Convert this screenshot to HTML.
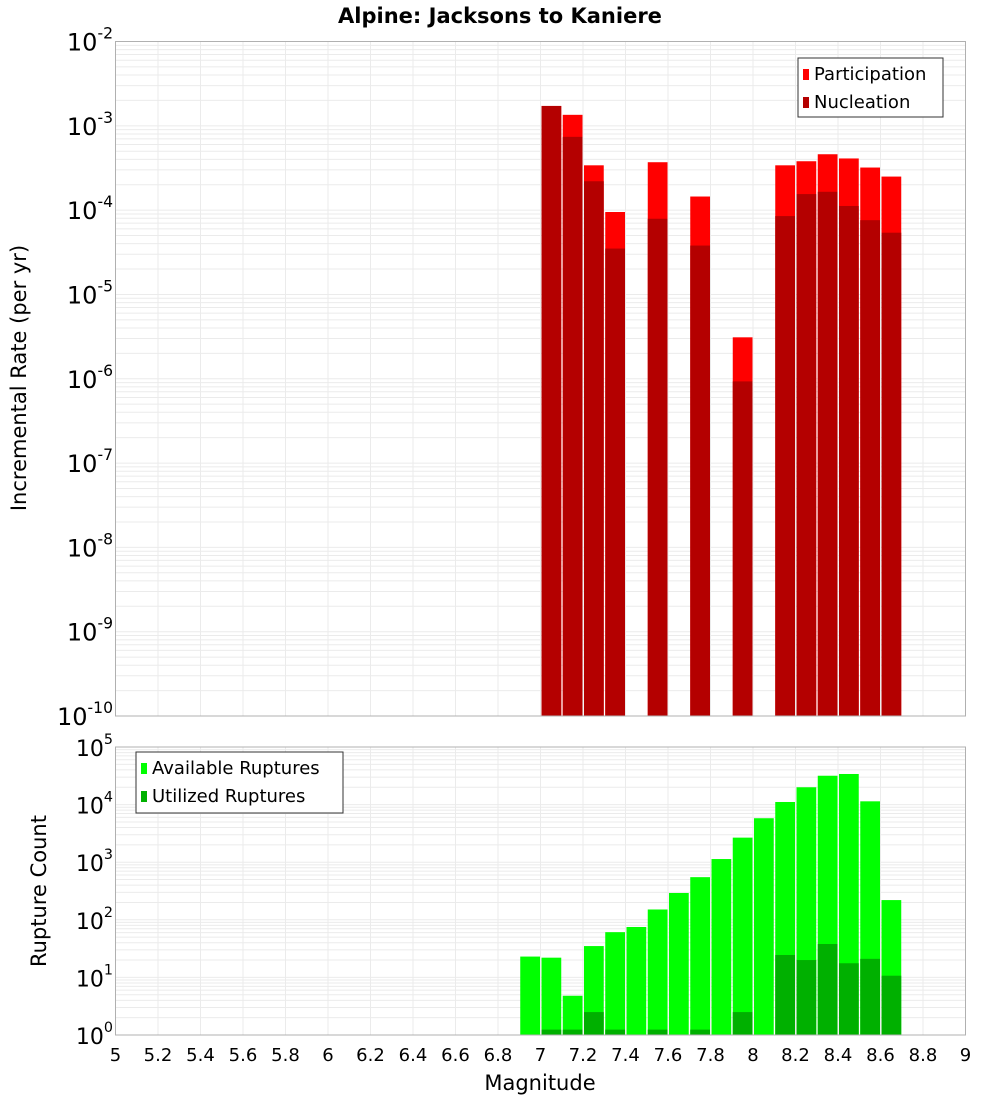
<!DOCTYPE html>
<html><head><meta charset="utf-8"><style>
html,body{margin:0;padding:0;background:#fff}
svg{display:block;font-family:"DejaVu Sans","Liberation Sans",sans-serif}
</style></head><body>
<svg id="c" width="1000" height="1100" xmlns="http://www.w3.org/2000/svg">
<text x="500" y="23" text-anchor="middle" font-size="21" font-weight="bold">Alpine: Jacksons to Kaniere</text>
<text transform="translate(26,378) rotate(-90)" text-anchor="middle" font-size="21">Incremental Rate (per yr)</text>
<text transform="translate(46,891) rotate(-90)" text-anchor="middle" font-size="21">Rupture Count</text>
<text x="540" y="1090" text-anchor="middle" font-size="21">Magnitude</text>
<g id="top"></g><g id="bot"></g><g id="xt"></g>
</svg>
<script>
const topCenters=[7.05,7.15,7.25,7.35,7.55,7.75,7.95,8.15,8.25,8.35,8.45,8.55,8.65];
const participation=[1.72e-3,1.35e-3,3.4e-4,9.5e-5,3.7e-4,1.45e-4,3.1e-6,3.4e-4,3.8e-4,4.6e-4,4.1e-4,3.2e-4,2.5e-4];
const nucleation=[1.72e-3,7.4e-4,2.2e-4,3.5e-5,7.9e-5,3.8e-5,9.3e-7,8.5e-5,1.55e-4,1.65e-4,1.12e-4,7.6e-5,5.4e-5];
const botCenters=[6.95,7.05,7.15,7.25,7.35,7.45,7.55,7.65,7.75,7.85,7.95,8.05,8.15,8.25,8.35,8.45,8.55,8.65];
const available=[23,22,4.8,35,61,75,151,292,550,1135,2670,5800,11100,20000,31700,34000,11400,220];
const utilized=[0,1.24,1.24,2.5,1.24,0,1.24,0,1.24,0,2.5,0,24.5,20,38,17.6,21,10.7];
const xTicks=[5,5.2,5.4,5.6,5.8,6,6.2,6.4,6.6,6.8,7,7.2,7.4,7.6,7.8,8,8.2,8.4,8.6,8.8,9];
const topExp=[-2,-3,-4,-5,-6,-7,-8,-9,-10];
const botExp=[5,4,3,2,1,0];

const NS="http://www.w3.org/2000/svg";
const L=115.5,R=965.5;
const xs=m=>L+(m-5)/4*(R-L);
function mk(p,t,a){const e=document.createElementNS(NS,t);for(const k in a)e.setAttribute(k,a[k]);p.appendChild(e);return e;}
function panel(g,T,B,emax,emin,name){
  const ys=v=>T+(emax-Math.log10(v))/(emax-emin)*(B-T);
  mk(g,'rect',{x:L,y:T,width:R-L,height:B-T,fill:'#fff'});
  for(let e=emin;e<emax;e++)for(let k=1;k<10;k++){const y=ys(k*Math.pow(10,e));
    const l=mk(g,'line',{x1:L,x2:R,y1:y,y2:y,stroke:'#ebebeb','stroke-width':1});
    
    }
  xTicks.forEach(m=>{const x=xs(m);const l=mk(g,'line',{x1:x,x2:x,y1:T,y2:B,stroke:'#ebebeb'});
    
    });
  return ys;
}
function ylabels(g,exps,ys,fs,name){
  exps.forEach(e=>{const y=ys(Math.pow(10,e));const t=mk(g,'text',{x:113,y:y+9,'text-anchor':'end','font-size':fs});
    
    
    t.textContent='10';const s=mk(t,'tspan',{dy:-12,'font-size':fs*0.65});s.textContent=String(e);});
}
function bars(g,centers,vals,ys,B,color,name){
  centers.forEach((c,i)=>{if(!vals[i])return;const x0=xs(c-0.05)+1,x1=xs(c+0.05)-0.5;let y=ys(vals[i]);if(y>B)y=B;
    const r=mk(g,'rect',{x:x0,y:y,width:x1-x0,height:B-y,fill:color});
    
    });
}
function border(g,T,B){mk(g,'rect',{x:L,y:T,width:R-L,height:B-T,fill:'none',stroke:'#b0b0b0'});}
function legend(g,x,y,w,h,items,name){
  const box=mk(g,'rect',{x:x,y:y,width:w,height:h,fill:'#fff',stroke:'#333'});
  
  
  items.forEach((it,i)=>{const yy=y+15+i*28;mk(g,'rect',{x:x+5,y:yy-4,width:6,height:11,fill:it[1]});
    const t=mk(g,'text',{x:x+16,y:yy+7,'font-size':18});t.textContent=it[0];
    
    });
}
// top
const gt=document.getElementById('top');const T1=41.5,B1=716;
const yt=panel(gt,T1,B1,-2,-10,'top');
bars(gt,topCenters,participation,yt,B1,'#ff0000','participation-bar');
bars(gt,topCenters,nucleation,yt,B1,'#b40000','nucleation-bar');
border(gt,T1,B1);ylabels(gt,topExp,yt,24,'top');
legend(gt,798,58,145,59,[['Participation','#ff0000'],['Nucleation','#b40000']],'top-legend');
// bottom
const gb=document.getElementById('bot');const T2=747,B2=1035;
const yb=panel(gb,T2,B2,5,0,'bottom');
bars(gb,botCenters,available,yb,B2,'#00ff00','available-bar');
bars(gb,botCenters,utilized,yb,B2,'#00b000','utilized-bar');
border(gb,T2,B2);ylabels(gb,botExp,yb,22,'bottom');
legend(gb,136,752,207,61,[['Available Ruptures','#00ff00'],['Utilized Ruptures','#00b000']],'bottom-legend');
// x ticks
const gx=document.getElementById('xt');
xTicks.forEach(m=>{const t=mk(gx,'text',{x:xs(m),y:1061,'text-anchor':'middle','font-size':18});
  
  
  t.textContent=String(m);});
</script>
</body></html>
